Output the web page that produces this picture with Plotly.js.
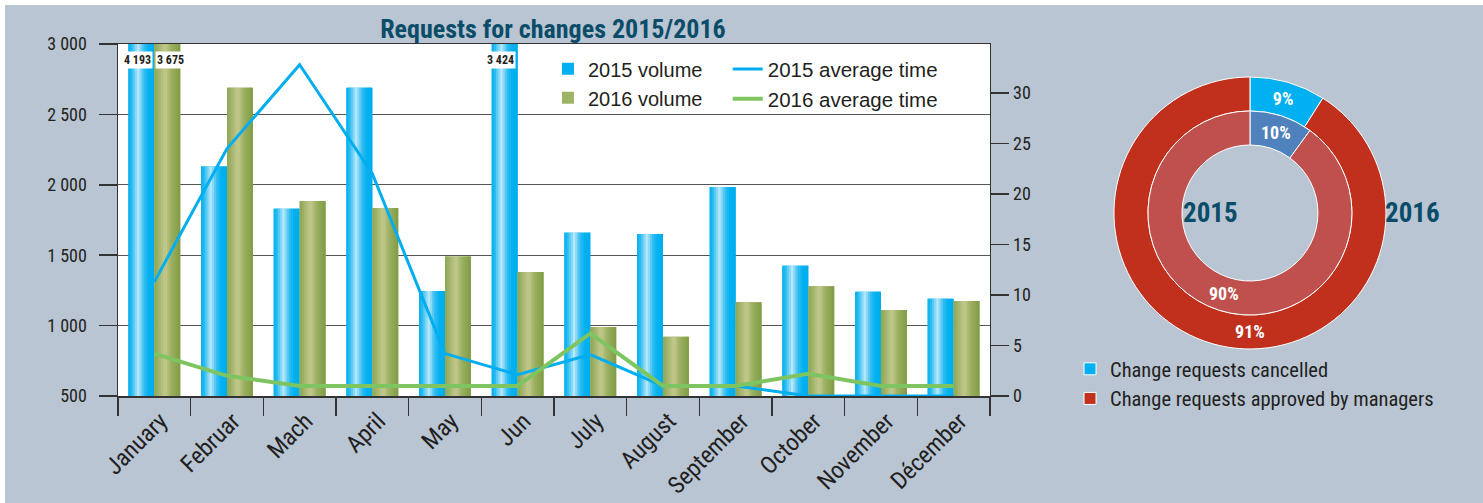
<!DOCTYPE html>
<html>
<head>
<meta charset="utf-8">
<script src="https://cdn.plot.ly/plotly-3.0.1.min.js"></script>
<style>
  html, body { margin:0; padding:0; background:#ffffff; }
  #chart { position:absolute; left:5px; top:5px; width:1478px; height:498px; }
  #chart .xtick text, #chart .ytick text, #chart .y2tick text, #chart .gtitle,
  #chart .annotation-text, #chart .slicetext { font-stretch: condensed; }
  #chart .legend3 .legendtext { font-stretch: condensed; }
</style>
</head>
<body>
<div id="chart"></div>
<script>
// ---------- data ----------
const months = ['January','Februar','Mach','April','May','Jun','July','August','September','October','November','Décember'];
const volume2015 = [4193, 2130, 1830, 2690, 1245, 3424, 1660, 1650, 1985, 1425, 1240, 1190];
const volume2016 = [3675, 2690, 1885, 1835, 1490, 1380, 990, 920, 1165, 1280, 1110, 1175];
const avgTime2015 = [11.3, 24.5, 32.8, 22, 4.2, 2.1, 4.1, 1, 1, 0, 0, 0];
const avgTime2016 = [4.2, 2, 1, 1, 1, 1, 6.2, 1, 1, 2.2, 1, 1];
const pieLabels = ['Change requests cancelled', 'Change requests approved by managers'];
const share2016 = [9, 91];
const share2015 = [10, 90];
const seriesNames = ['2015 volume', '2016 volume', '2015 average time', '2016 average time'];
const yearLabels = ['2015', '2016'];

// ---------- styling helpers ----------
const NARROW = '"Roboto Condensed", "Liberation Sans Narrow", Roboto, sans-serif';
const REG = '"Liberation Sans", Arial, sans-serif';
const TXT = '#231f20';
const TEAL = '#0b4d69';
const Y_RANGE = [500, 3000];
const Y2_RANGE = [0, 34.85];

function hex2rgb(h){ return [1,3,5].map(i => parseInt(h.substr(i,2),16)); }
function interp(stops, t){
  for (let i=0;i<stops.length-1;i++){
    const [t0,c0]=stops[i], [t1,c1]=stops[i+1];
    if (t>=t0 && t<=t1){
      const f=(t-t0)/(t1-t0), a=hex2rgb(c0), b=hex2rgb(c1);
      return 'rgb('+a.map((v,k)=>Math.round(v+(b[k]-v)*f)).join(',')+')';
    }
  }
  return stops[stops.length-1][1];
}
function fmt(v){ return String(v).replace(/\B(?=(\d{3})+(?!\d))/g, ' '); }

const blueStops = [[0,'#00aeef'],[0.12,'#27bbf1'],[0.38,'#b9e8fa'],[0.6,'#33bdf2'],[0.8,'#00b0f0'],[1,'#00aced']];
const greenStops = [[0,'#8ba556'],[0.18,'#a3b56c'],[0.42,'#c4c98e'],[0.65,'#9cb062'],[1,'#7e9b45']];

const BW = 0.357; // bar width in category units
function gradientBars(name, vals, x0, stops, base){
  const out = [{
    type:'bar', x:months, y:vals, name:name, offset:x0, width:BW,
    marker:{color:base, line:{width:0}}, legend:'legend', showlegend:true
  }];
  const n = 12;
  for (let i=0;i<n;i++){
    const off = x0 + i*BW/n;
    const w = Math.min(BW/n*1.6, x0 + BW - off);
    out.push({
      type:'bar', x:months, y:vals, offset:off, width:w,
      marker:{color:interp(stops,(i+0.5)/n), line:{width:0}},
      showlegend:false, hoverinfo:'skip'
    });
  }
  return out;
}

// donut geometry (paper fractions); paper is 1355 x 352 px
const PW = 1355, PH = 352;
const CX = 0.8354, CY = 0.5199;
const R_OUT = 136, R_MID = 102, R_IN = 68;

const traces = [
  ...gradientBars(seriesNames[0], volume2015, -BW, blueStops, '#00b0f0'),
  ...gradientBars(seriesNames[1], volume2016, 0, greenStops, '#9fb366'),
  { type:'scatter', mode:'lines', x:months, y:avgTime2015, yaxis:'y2', name:seriesNames[2],
    line:{color:'#00aeef', width:3}, cliponaxis:false, legend:'legend2' },
  { type:'scatter', mode:'lines', x:months, y:avgTime2016, yaxis:'y2', name:seriesNames[3],
    line:{color:'#7ec461', width:4}, cliponaxis:false, legend:'legend2' },
  { type:'pie', values:share2016, labels:pieLabels, hole:R_MID/R_OUT, sort:false, direction:'clockwise', rotation:0,
    domain:{x:[CX-R_OUT/PW, CX+R_OUT/PW], y:[CY-R_OUT/PH, CY+R_OUT/PH]},
    marker:{colors:['#00b0f0','#c0301c'], line:{color:'#ffffff', width:1}},
    texttemplate:'%{value}%', textposition:'inside', insidetextorientation:'horizontal',
    textfont:{family:NARROW, size:18, color:'#ffffff', weight:'bold'},
    legend:'legend3', hoverinfo:'label+percent' },
  { type:'pie', values:share2015, labels:pieLabels, hole:R_IN/R_MID, sort:false, direction:'clockwise', rotation:0,
    domain:{x:[CX-R_MID/PW, CX+R_MID/PW], y:[CY-R_MID/PH, CY+R_MID/PH]},
    marker:{colors:['#4f81bd','#c0504d'], line:{color:'#ffffff', width:1}},
    textinfo:'none',
    legend:'legend3', showlegend:false, hoverinfo:'label+percent' }
];

// labels for bars exceeding the axis
const annotations = [];
const labelY = Y_RANGE[1] - (Y_RANGE[1]-Y_RANGE[0])*0.045;
[[volume2015,-0.02,'right'],[volume2016,0.015,'left']].forEach(([vals,dx,anchor])=>{
  vals.forEach((v,i)=>{
    if (v > Y_RANGE[1]) annotations.push({
      x:i+dx, y:labelY, xref:'x', yref:'y', text:fmt(v), showarrow:false, xanchor:anchor,
      bgcolor:'#ffffff', borderpad:1,
      font:{family:NARROW, size:12, color:TXT, weight:'bold'}
    });
  });
});
// inner ring (2015) slice labels, at each slice's mid-angle
const total2015 = share2015.reduce((a,b)=>a+b,0);
let acc = 0;
share2015.forEach(v=>{
  const a = (acc + v/2)/total2015*2*Math.PI; acc += v;
  const r = (R_MID+R_IN)/2;
  annotations.push({
    x:CX + r*Math.sin(a)/PW, y:CY + r*Math.cos(a)/PH, xref:'paper', yref:'paper',
    xanchor:'center', yanchor:'middle', text:v+'%', showarrow:false,
    font:{family:NARROW, size:18, color:'#ffffff', weight:'bold'}
  });
});
annotations.push(
  {x:0.806, y:CY, xref:'paper', yref:'paper', xanchor:'center', yanchor:'middle', text:yearLabels[0], showarrow:false,
   font:{family:NARROW, size:27, color:TEAL, weight:'bold'}},
  {x:0.9557, y:CY, xref:'paper', yref:'paper', xanchor:'center', yanchor:'middle', text:yearLabels[1], showarrow:false,
   font:{family:NARROW, size:27, color:TEAL, weight:'bold'}}
);

const tickFont = {family:NARROW, size:18, color:TXT};
const layout = {
  width:1478, height:498,
  margin:{l:113, r:10, t:39, b:107, pad:0},
  paper_bgcolor:'#b9c5d3', plot_bgcolor:'#ffffff',
  separators:'. ',
  barmode:'overlay',
  font:{family:NARROW, color:TXT},
  title:{text:'Requests for changes 2015/2016', x:0.321, xref:'paper', xanchor:'center',
         y:0.952, yref:'container', yanchor:'middle',
         font:{family:NARROW, size:26, color:TEAL, weight:'bold'}},
  xaxis:{domain:[0,0.6435], type:'category', tickson:'boundaries', ticks:'outside', ticklen:18,
         tickcolor:'#333333', tickwidth:1.5, showline:true, linecolor:'#333333', linewidth:1.5, mirror:true,
         tickangle:-45, ticklabelshift:6, tickfont:{family:NARROW, size:24, color:TXT}, showgrid:false},
  yaxis:{range:Y_RANGE, dtick:500, tickformat:',', ticks:'outside', ticklen:18, tickcolor:'#333333', tickwidth:1.5,
         ticklabelstandoff:8,
         showline:true, linecolor:'#333333', linewidth:1.5, showgrid:true, gridcolor:'#555555', gridwidth:1.2,
         zeroline:false, tickfont:tickFont},
  yaxis2:{range:Y2_RANGE, dtick:5, overlaying:'y', side:'right', anchor:'x', ticks:'outside', ticklen:18,
          tickcolor:'#333333', tickwidth:1.5, showline:true, linecolor:'#333333', linewidth:1.5,
          showgrid:false, zeroline:false, tickfont:tickFont},
  legend:{x:0.3173, y:0.985, xanchor:'left', yanchor:'top', bgcolor:'rgba(0,0,0,0)',
          font:{family:REG, size:20, color:TXT}},
  legend2:{x:0.450, y:0.985, xanchor:'left', yanchor:'top', bgcolor:'rgba(0,0,0,0)',
          font:{family:REG, size:20.5, color:TXT}},
  legend3:{x:0.7026, y:0.1336, xanchor:'left', yanchor:'top', bgcolor:'rgba(0,0,0,0)',
          font:{family:NARROW, size:20.5, color:TXT}},
  annotations:annotations,
  showlegend:true
};

Plotly.newPlot('chart', traces, layout, {displayModeBar:false, staticPlot:true});
</script>
</body>
</html>
